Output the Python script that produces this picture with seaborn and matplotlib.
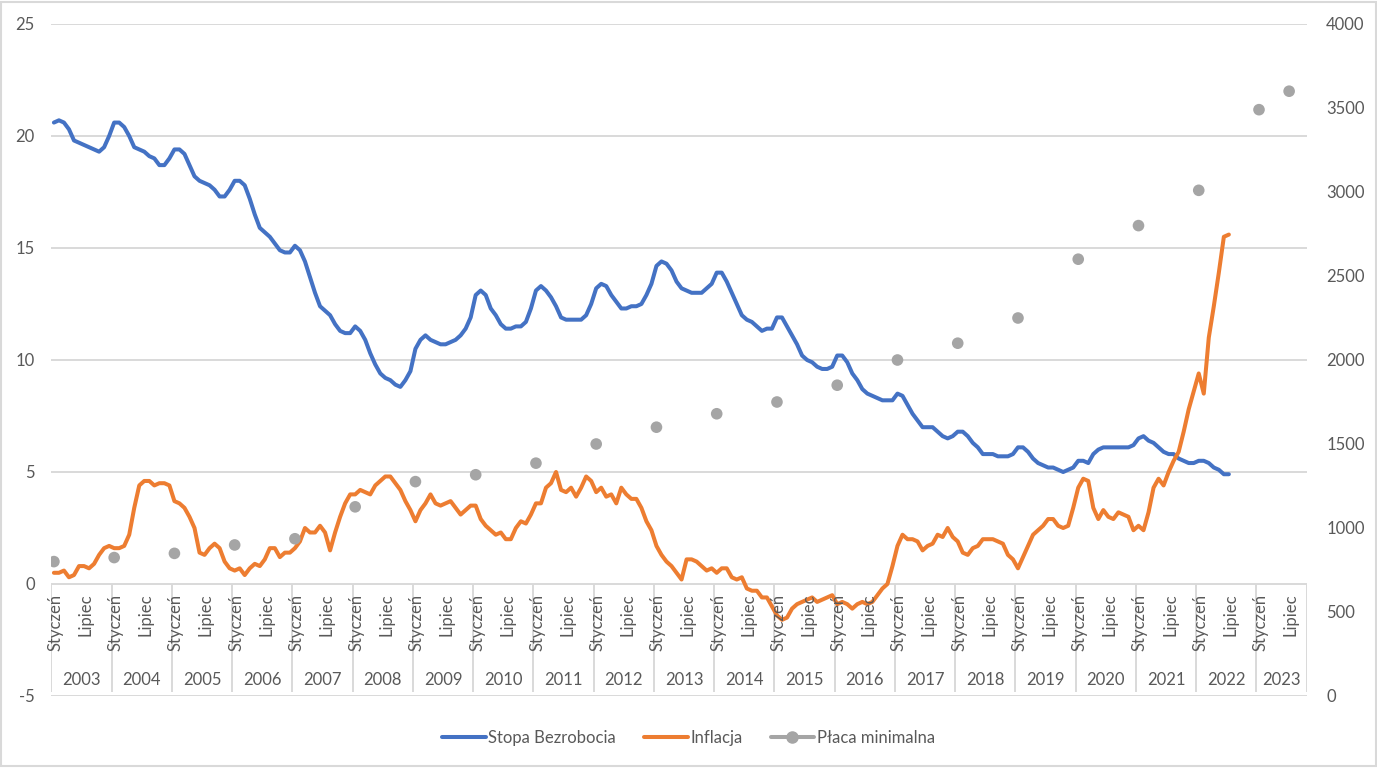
import pandas as pd
import matplotlib.pyplot as plt
from matplotlib.lines import Line2D
from matplotlib.patches import Rectangle
import seaborn as sns

# Monthly data, January 2003 - July 2022
unemployment = [
    20.6, 20.7, 20.6, 20.3, 19.8, 19.7, 19.6, 19.5, 19.4, 19.3, 19.5, 20.0,  # 2003
    20.6, 20.6, 20.4, 20.0, 19.5, 19.4, 19.3, 19.1, 19.0, 18.7, 18.7, 19.0,  # 2004
    19.4, 19.4, 19.2, 18.7, 18.2, 18.0, 17.9, 17.8, 17.6, 17.3, 17.3, 17.6,  # 2005
    18.0, 18.0, 17.8, 17.2, 16.5, 15.9, 15.7, 15.5, 15.2, 14.9, 14.8, 14.8,  # 2006
    15.1, 14.9, 14.4, 13.7, 13.0, 12.4, 12.2, 12.0, 11.6, 11.3, 11.2, 11.2,  # 2007
    11.5, 11.3, 10.9, 10.3, 9.8, 9.4, 9.2, 9.1, 8.9, 8.8, 9.1, 9.5,  # 2008
    10.5, 10.9, 11.1, 10.9, 10.8, 10.7, 10.7, 10.8, 10.9, 11.1, 11.4, 11.9,  # 2009
    12.9, 13.1, 12.9, 12.3, 12.0, 11.6, 11.4, 11.4, 11.5, 11.5, 11.7, 12.3,  # 2010
    13.1, 13.3, 13.1, 12.8, 12.4, 11.9, 11.8, 11.8, 11.8, 11.8, 12.0, 12.5,  # 2011
    13.2, 13.4, 13.3, 12.9, 12.6, 12.3, 12.3, 12.4, 12.4, 12.5, 12.9, 13.4,  # 2012
    14.2, 14.4, 14.3, 14.0, 13.5, 13.2, 13.1, 13.0, 13.0, 13.0, 13.2, 13.4,  # 2013
    13.9, 13.9, 13.5, 13.0, 12.5, 12.0, 11.8, 11.7, 11.5, 11.3, 11.4, 11.4,  # 2014
    11.9, 11.9, 11.5, 11.1, 10.7, 10.2, 10.0, 9.9, 9.7, 9.6, 9.6, 9.7,  # 2015
    10.2, 10.2, 9.9, 9.4, 9.1, 8.7, 8.5, 8.4, 8.3, 8.2, 8.2, 8.2,  # 2016
    8.5, 8.4, 8.0, 7.6, 7.3, 7.0, 7.0, 7.0, 6.8, 6.6, 6.5, 6.6,  # 2017
    6.8, 6.8, 6.6, 6.3, 6.1, 5.8, 5.8, 5.8, 5.7, 5.7, 5.7, 5.8,  # 2018
    6.1, 6.1, 5.9, 5.6, 5.4, 5.3, 5.2, 5.2, 5.1, 5.0, 5.1, 5.2,  # 2019
    5.5, 5.5, 5.4, 5.8, 6.0, 6.1, 6.1, 6.1, 6.1, 6.1, 6.1, 6.2,  # 2020
    6.5, 6.6, 6.4, 6.3, 6.1, 5.9, 5.8, 5.8, 5.6, 5.5, 5.4, 5.4,  # 2021
    5.5, 5.5, 5.4, 5.2, 5.1, 4.9, 4.9,  # 2022
]

inflation = [
    0.5, 0.5, 0.6, 0.3, 0.4, 0.8, 0.8, 0.7, 0.9, 1.3, 1.6, 1.7,  # 2003
    1.6, 1.6, 1.7, 2.2, 3.4, 4.4, 4.6, 4.6, 4.4, 4.5, 4.5, 4.4,  # 2004
    3.7, 3.6, 3.4, 3.0, 2.5, 1.4, 1.3, 1.6, 1.8, 1.6, 1.0, 0.7,  # 2005
    0.6, 0.7, 0.4, 0.7, 0.9, 0.8, 1.1, 1.6, 1.6, 1.2, 1.4, 1.4,  # 2006
    1.6, 1.9, 2.5, 2.3, 2.3, 2.6, 2.3, 1.5, 2.3, 3.0, 3.6, 4.0,  # 2007
    4.0, 4.2, 4.1, 4.0, 4.4, 4.6, 4.8, 4.8, 4.5, 4.2, 3.7, 3.3,  # 2008
    2.8, 3.3, 3.6, 4.0, 3.6, 3.5, 3.6, 3.7, 3.4, 3.1, 3.3, 3.5,  # 2009
    3.5, 2.9, 2.6, 2.4, 2.2, 2.3, 2.0, 2.0, 2.5, 2.8, 2.7, 3.1,  # 2010
    3.6, 3.6, 4.3, 4.5, 5.0, 4.2, 4.1, 4.3, 3.9, 4.3, 4.8, 4.6,  # 2011
    4.1, 4.3, 3.9, 4.0, 3.6, 4.3, 4.0, 3.8, 3.8, 3.4, 2.8, 2.4,  # 2012
    1.7, 1.3, 1.0, 0.8, 0.5, 0.2, 1.1, 1.1, 1.0, 0.8, 0.6, 0.7,  # 2013
    0.5, 0.7, 0.7, 0.3, 0.2, 0.3, -0.2, -0.3, -0.3, -0.6, -0.6, -1.0,  # 2014
    -1.4, -1.6, -1.5, -1.1, -0.9, -0.8, -0.7, -0.6, -0.8, -0.7, -0.6, -0.5,  # 2015
    -0.9, -0.8, -0.9, -1.1, -0.9, -0.8, -0.9, -0.8, -0.5, -0.2, 0.0, 0.8,  # 2016
    1.7, 2.2, 2.0, 2.0, 1.9, 1.5, 1.7, 1.8, 2.2, 2.1, 2.5, 2.1,  # 2017
    1.9, 1.4, 1.3, 1.6, 1.7, 2.0, 2.0, 2.0, 1.9, 1.8, 1.3, 1.1,  # 2018
    0.7, 1.2, 1.7, 2.2, 2.4, 2.6, 2.9, 2.9, 2.6, 2.5, 2.6, 3.4,  # 2019
    4.3, 4.7, 4.6, 3.4, 2.9, 3.3, 3.0, 2.9, 3.2, 3.1, 3.0, 2.4,  # 2020
    2.6, 2.4, 3.2, 4.3, 4.7, 4.4, 5.0, 5.5, 5.9, 6.8, 7.8, 8.6,  # 2021
    9.4, 8.5, 11.0, 12.4, 13.9, 15.5, 15.6,  # 2022
]

# Minimum wage (PLN)
wage_year = list(range(2003, 2024)) + [2023]
wage_month = [1] * 21 + [7]
wage = [800, 824, 849, 899.1, 936, 1126, 1276, 1317, 1386, 1500, 1600,
        1680, 1750, 1850, 2000, 2100, 2250, 2600, 2800, 3010, 3490, 3600]

years = list(range(2003, 2024))
n_months = 20 * 12 + 10  # axis runs to October 2023
month_names = {1: "Styczeń", 7: "Lipiec"}

BLUE, ORANGE, GREY = "#4472C4", "#ED7D31", "#A5A5A5"
TEXT = "#595959"
GRID = "#D9D9D9"

sns.set_style("white")
plt.rcParams["font.family"] = ["Lato", "DejaVu Sans"]
plt.rcParams["axes.unicode_minus"] = False
FS = 12

lines_df = pd.concat([
    pd.DataFrame({"idx": range(len(unemployment)), "value": unemployment,
                  "series": "Stopa Bezrobocia"}),
    pd.DataFrame({"idx": range(len(inflation)), "value": inflation,
                  "series": "Inflacja"}),
])
wage_df = pd.DataFrame({
    "idx": [(y - 2003) * 12 + m - 1 for y, m in zip(wage_year, wage_month)],
    "wage": wage,
})

fig = plt.figure(figsize=(13.77, 7.68), dpi=100)
ax = fig.add_axes([51.4 / 1377, 1 - 696 / 768, (1306.7 - 51.4) / 1377, 672 / 768])

sns.lineplot(data=lines_df, x="idx", y="value", hue="series",
             palette={"Stopa Bezrobocia": BLUE, "Inflacja": ORANGE},
             linewidth=2.9, legend=False, ax=ax)

ax.set_xlim(-0.5, n_months - 0.5)
ax.set_ylim(-5, 25)
ax.set_yticks(range(-5, 26, 5))
ax.set_xticks([])
ax.set_xlabel("")
ax.set_ylabel("")
ax.grid(axis="y", color=GRID, linewidth=1.4)
ax.set_axisbelow(True)
for s in ax.spines.values():
    s.set_visible(False)
ax.tick_params(axis="y", length=0, pad=12, labelcolor=TEXT, labelsize=FS)

# two-level category axis sitting on y = 0
bounds = [(y - 2003) * 12 - 0.5 for y in years] + [n_months - 0.5]
ax.vlines(bounds, -4.82, 0, color=GRID, linewidth=1.4, zorder=0)
for i in range(n_months):
    m = i % 12 + 1
    if m in month_names:
        ax.annotate(month_names[m], xy=(i, 0), xytext=(1, -7),
                    textcoords="offset points", rotation=90,
                    ha="center", va="top", color=TEXT, fontsize=FS)
for k, y in enumerate(years):
    ax.text((bounds[k] + bounds[k + 1]) / 2, -4.29, str(y),
            ha="center", va="center", color=TEXT, fontsize=FS)

ax2 = ax.twinx()
sns.scatterplot(data=wage_df, x="idx", y="wage", color=GREY, s=70,
                edgecolor="none", ax=ax2, zorder=5)
ax2.set_ylim(0, 4000)
ax2.set_yticks(range(0, 4001, 500))
ax2.set_ylabel("")
ax2.grid(False)
for s in ax2.spines.values():
    s.set_visible(False)
ax2.tick_params(axis="y", length=0, pad=14, labelcolor=TEXT, labelsize=FS)

handles = [
    Line2D([], [], color=BLUE, linewidth=2.9),
    Line2D([], [], color=ORANGE, linewidth=2.9),
    Line2D([], [], color=GREY, linewidth=2.9, marker="o", markersize=8),
]
fig.legend(handles, ["Stopa Bezrobocia", "Inflacja", "Płaca minimalna"],
           loc="center", bbox_to_anchor=(0.5, 1 - 738 / 768), ncol=3,
           frameon=False, fontsize=FS, labelcolor=TEXT, handlelength=2.6,
           handletextpad=0.15, columnspacing=1.7)

fig.patches.append(Rectangle((0.001, 0.002), 0.998, 0.996, transform=fig.transFigure,
                             fill=False, edgecolor=GRID, linewidth=1.5))

fig.savefig("out.png", dpi=100)
